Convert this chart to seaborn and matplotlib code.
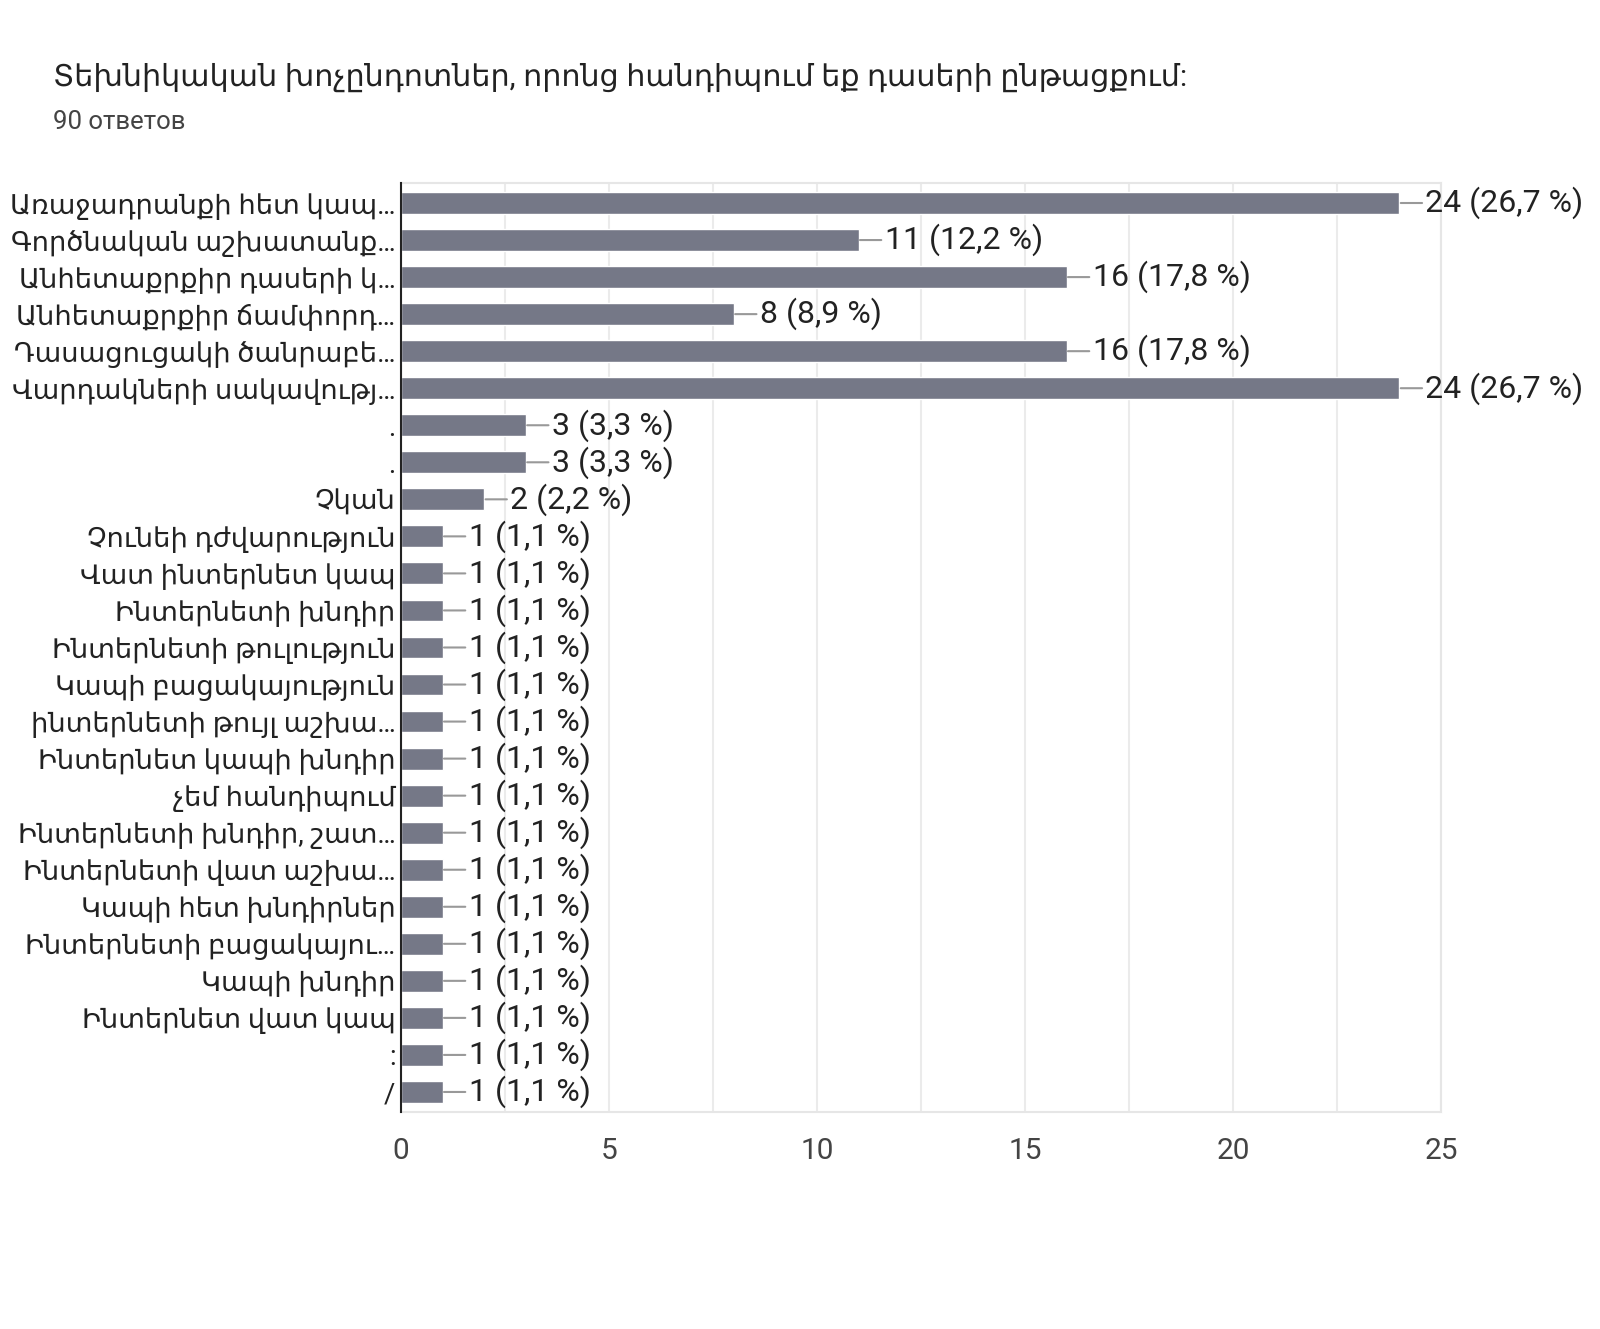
import matplotlib
matplotlib.use("Agg")
import matplotlib.pyplot as plt
import seaborn as sns
import numpy as np

title = "Տեխնիկական խոչընդոտներ, որոնց հանդիպում եք դասերի ընթացքում:"
subtitle = "90 ответов"
total = 90

labels = ["Առաջադրանքի հետ կապ…", "Գործնական աշխատանք…", "Անհետաքրքիր դասերի կ…",
          "Անհետաքրքիր ճամփորդ…", "Դասացուցակի ծանրաբե…", "Վարդակների սակավությ…",
          ".", ".", "Չկան", "Չունեի դժվարություն", "Վատ ինտերնետ կապ",
          "Ինտերնետի խնդիր", "Ինտերնետի թուլություն", "Կապի բացակայություն",
          "ինտերնետի թույլ աշխա…", "Ինտերնետ կապի խնդիր", "չեմ հանդիպում",
          "Ինտերնետի խնդիր, շատ…", "Ինտերնետի վատ աշխա…", "Կապի հետ խնդիրներ",
          "Ինտերնետի բացակայու…", "Կապի խնդիր", "Ինտերնետ վատ կապ", ":", "/"]
counts = [24, 11, 16, 8, 16, 24, 3, 3, 2, 1, 1, 1, 1, 1, 1, 1, 1, 1, 1, 1, 1, 1, 1, 1, 1]
xticks = [0, 5, 10, 15, 20, 25]

sns.set_style("white")
plt.rcParams['font.family'] = ['Roboto', 'DejaVu Sans']

fig = plt.figure(figsize=(16, 13.29), dpi=100)
ax = fig.add_axes([0.2506, 0.1633, 0.65, 0.699])

pos = [str(i) for i in range(len(labels))]
sns.barplot(x=counts, y=pos, orient="h", color="#757887", saturation=1,
            width=0.59, ax=ax, zorder=3)

ax.set_xlim(0, 25)
ax.set_ylim(len(labels) - 0.46, -0.54)
ax.set_xticks(xticks)
ax.set_xticks(np.arange(2.5, 25, 5), minor=True)
ax.grid(axis="x", which="both", color="#ebebeb", linewidth=1.5, zorder=0)
ax.set_xticklabels([str(t) for t in xticks], fontsize=21.5, color="#444444")
ax.set_yticks(range(len(labels)))
ax.set_yticklabels(labels, fontsize=19.7, color="#222222")
ax.tick_params(axis="both", which="both", length=0)
ax.tick_params(axis="x", pad=18)
ax.tick_params(axis="y", pad=4)
ax.set_xlabel("")
ax.set_ylabel("")

for side in ["top", "right", "bottom"]:
    ax.spines[side].set_color("#e6e6e6")
    ax.spines[side].set_linewidth(1.5)
ax.spines["left"].set_color("#222222")
ax.spines["left"].set_linewidth(1.5)
ax.spines["left"].set_zorder(5)

for i, c in enumerate(counts):
    pct = f"{c / total * 100:.1f}".replace(".", ",")
    ax.annotate(f"{c} ({pct} %)", xy=(c, i), xytext=(26, 0),
                textcoords="offset pixels", va="center", ha="left",
                fontsize=23, color="#222222", annotation_clip=False,
                arrowprops=dict(arrowstyle="-", color="#999999", lw=1.5,
                                shrinkA=0, shrinkB=1))

fig.text(53 / 1600, 1 - 77 / 1329, title, fontsize=21.7, color="#222222",
         va="center", ha="left")
fig.text(53 / 1600, 1 - 122 / 1329, subtitle, fontsize=18.5, color="#444444",
         va="center", ha="left")

fig.savefig("out.png", dpi=100, facecolor="white")
